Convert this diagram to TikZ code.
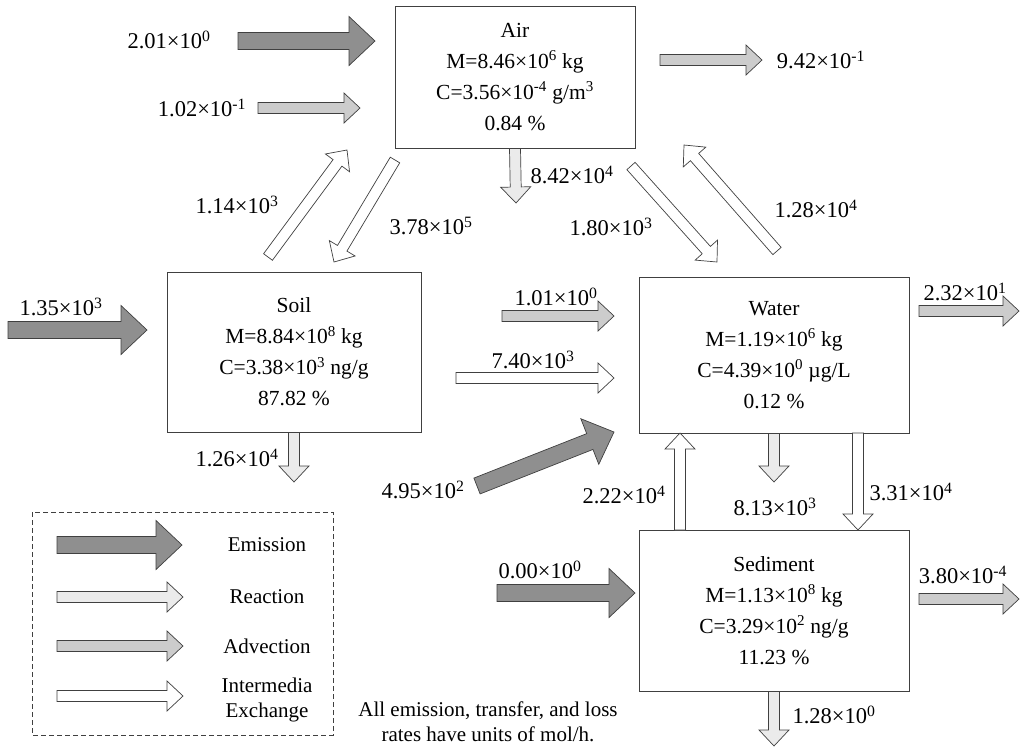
\documentclass[tikz,border=0pt]{standalone}
\usepackage{fontspec}
\setmainfont{Liberation Serif}
\usetikzlibrary{calc}

\definecolor{emissionGray}{gray}{0.56}
\definecolor{reactionGray}{gray}{0.92}
\definecolor{advectionGray}{gray}{0.80}
\definecolor{edgeGray}{gray}{0.25}

\begin{document}
\begin{tikzpicture}[x=1pt,y=-1pt,
		emission/.style={fill=emissionGray},
		reaction/.style={fill=reactionGray},
		advection/.style={fill=advectionGray},
		exchange/.style={fill=white},
		compartment/.style={draw=edgeGray,line width=1pt,align=center,inner sep=0pt,font=\fontsize{21.5}{31}\selectfont},
		rate/.style={inner sep=0pt,font=\fontsize{22.5}{25}\selectfont},
		legendText/.style={inner sep=0pt,align=center,font=\fontsize{21}{25}\selectfont}]
		\newcommand*{\sci}[2]{#1×10\textsuperscript{#2}}
		\newcommand*{\flowArrow}[6]{%
			\coordinate(hb) at ($(#3)!#6!(#2)$);
			\filldraw[draw=edgeGray,line width=0.7pt,line join=miter,#1]
				($(#2)!#4!90:(#3)$) -- ($(hb)!#4!90:(#3)$) -- ($(hb)!#5!90:(#3)$) -- (#3)
				-- ($(hb)!#5!-90:(#3)$) -- ($(hb)!#4!-90:(#3)$) -- ($(#2)!#4!-90:(#3)$) -- cycle;}
		\newcommand*{\emissionArrow}[2]{\flowArrow{emission}{#1}{#2}{8.5pt}{24.5pt}{26pt}}
		\newcommand*{\thinArrow}[3]{\flowArrow{#1}{#2}{#3}{5.5pt}{15pt}{16pt}}

		\useasboundingbox (0,0) rectangle (1021,748);

		\node(air)[compartment,minimum width=240pt,minimum height=142pt] at (515,77)
			{Air\\M=\sci{8.46}{6} kg\\C=\sci{3.56}{-4} g/m\textsuperscript{3}\\0.84 \%};
		\node(soil)[compartment,minimum width=254pt,minimum height=160pt] at (294,352)
			{Soil\\M=\sci{8.84}{8} kg\\C=\sci{3.38}{3} ng/g\\87.82 \%};
		\node(water)[compartment,minimum width=270pt,minimum height=156pt] at (774,355)
			{Water\\M=\sci{1.19}{6} kg\\C=\sci{4.39}{0} µg/L\\0.12 \%};
		\node(sediment)[compartment,minimum width=270pt,minimum height=161pt] at (774,610.5)
			{Sediment\\M=\sci{1.13}{8} kg\\C=\sci{3.29}{2} ng/g\\11.23 \%};

		\coordinate(E1a) at (238,41);	\coordinate(E1b) at (375,41);
		\coordinate(E2a) at (8,330);	\coordinate(E2b) at (147,330);
		\coordinate(E3a) at (477,486);	\coordinate(E3b) at (614,432);
		\coordinate(E4a) at (497,593);	\coordinate(E4b) at (635,593);

		\coordinate(A1a) at (258,108);	\coordinate(A1b) at (360,108);
		\coordinate(A2a) at (660,60);	\coordinate(A2b) at (762,60);
		\coordinate(A3a) at (502,316);	\coordinate(A3b) at (614,316);
		\coordinate(A4a) at (919,311);	\coordinate(A4b) at (1019,311);
		\coordinate(A5a) at (919,599);	\coordinate(A5b) at (1019,599);

		\coordinate(R1b) at (516,203);
		\coordinate(R2b) at (294,482);
		\coordinate(R3b) at (774,482);
		\coordinate(R4b) at (774,746);

		\coordinate(X1a) at (268,257);	\coordinate(X1b) at (347,150);
		\coordinate(X2a) at (395,160);	\coordinate(X2b) at (334,262);
		\coordinate(X3a) at (631,166);	\coordinate(X3b) at (717,262);
		\coordinate(X4a) at (777,251);	\coordinate(X4b) at (684,145);
		\coordinate(X5a) at (456,378);	\coordinate(X5b) at (614,378);
		\coordinate(X6a) at (858,433);	\coordinate(X6b) at (858,530);
		\coordinate(X7a) at (680,530);	\coordinate(X7b) at (680,433);

		\emissionArrow{E1a}{E1b}
		\emissionArrow{E2a}{E2b}
		\emissionArrow{E3a}{E3b}
		\emissionArrow{E4a}{E4b}

		\thinArrow{advection}{A1a}{A1b}
		\thinArrow{advection}{A2a}{A2b}
		\thinArrow{advection}{A3a}{A3b}
		\thinArrow{advection}{A4a}{A4b}
		\thinArrow{advection}{A5a}{A5b}

		\thinArrow{reaction}{air.south}{R1b}
		\thinArrow{reaction}{soil.south}{R2b}
		\thinArrow{reaction}{water.south}{R3b}
		\thinArrow{reaction}{sediment.south}{R4b}

		\thinArrow{exchange}{X1a}{X1b}
		\thinArrow{exchange}{X2a}{X2b}
		\thinArrow{exchange}{X3a}{X3b}
		\thinArrow{exchange}{X4a}{X4b}
		\thinArrow{exchange}{X5a}{X5b}
		\thinArrow{exchange}{X6a}{X6b}
		\thinArrow{exchange}{X7a}{X7b}

		\node(rE1)[rate] at (169,40) {\sci{2.01}{0}};
		\node(rE2)[rate] at (61,307) {\sci{1.35}{3}};
		\node(rE3)[rate] at (423,490) {\sci{4.95}{2}};
		\node(rE4)[rate] at (540,570) {\sci{0.00}{0}};
		\node(rA1)[rate] at (202,108) {\sci{1.02}{-1}};
		\node(rA2)[rate] at (821,60) {\sci{9.42}{-1}};
		\node(rA3)[rate] at (556,297) {\sci{1.01}{0}};
		\node(rA4)[rate] at (965,292) {\sci{2.32}{1}};
		\node(rA5)[rate] at (963,575) {\sci{3.80}{-4}};
		\node(rR1)[rate] at (572,175) {\sci{8.42}{4}};
		\node(rR2)[rate] at (237,458) {\sci{1.26}{4}};
		\node(rR3)[rate] at (775,507) {\sci{8.13}{3}};
		\node(rR4)[rate] at (834,715) {\sci{1.28}{0}};
		\node(rX1)[rate] at (237,205) {\sci{1.14}{3}};
		\node(rX2)[rate] at (431,226) {\sci{3.78}{5}};
		\node(rX3)[rate] at (611,227) {\sci{1.80}{3}};
		\node(rX4)[rate] at (816,209) {\sci{1.28}{4}};
		\node(rX5)[rate] at (533,360) {\sci{7.40}{3}};
		\node(rX6)[rate] at (911,492) {\sci{3.31}{4}};
		\node(rX7)[rate] at (624,495) {\sci{2.22}{4}};

		\draw[edgeGray,line width=0.8pt,dash pattern=on 5pt off 3pt] (32,512) rectangle (333,735);

		\coordinate(L1a) at (57,545);	\coordinate(L1b) at (182,545);
		\coordinate(L2a) at (57,597);	\coordinate(L2b) at (183,597);
		\coordinate(L3a) at (57,646);	\coordinate(L3b) at (183,646);
		\coordinate(L4a) at (57,696);	\coordinate(L4b) at (183,696);

		\emissionArrow{L1a}{L1b}
		\thinArrow{reaction}{L2a}{L2b}
		\thinArrow{advection}{L3a}{L3b}
		\thinArrow{exchange}{L4a}{L4b}

		\node(lEmission)[legendText] at (267,545) {Emission};
		\node(lReaction)[legendText] at (267,597) {Reaction};
		\node(lAdvection)[legendText] at (267,646) {Advection};
		\node(lExchange)[legendText] at (267,700) {Intermedia\\Exchange};

		\node(note)[legendText] at (488,722) {All emission, transfer, and loss\\rates have units of mol/h.};
\end{tikzpicture}
\end{document}
